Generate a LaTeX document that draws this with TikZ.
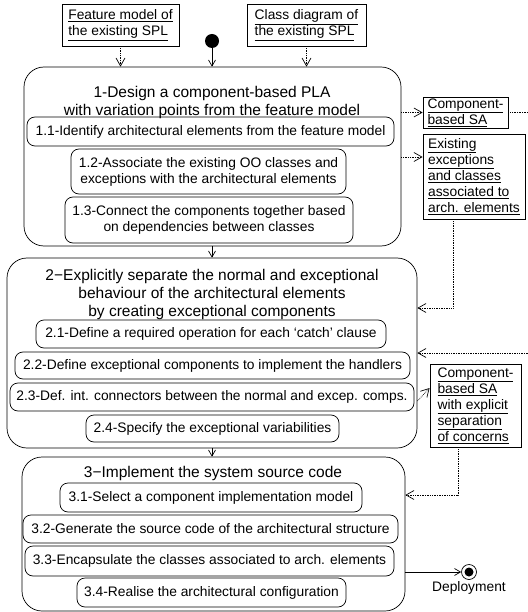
\documentclass[tikz,border=0pt]{standalone}
\usepackage{fontspec}
\setmainfont{Liberation Sans}
\usetikzlibrary{arrows.meta,positioning}

\begin{document}
\begin{tikzpicture}[
      x=1pt, y=-1pt,
      every node/.style={font=\fontsize{13.8}{16}\selectfont, inner sep=0pt},
      phase/.style={draw, rounded corners=20pt, line width=0.7pt},
      phasetitle/.style={align=center, font=\fontsize{15.5}{18}\selectfont},
      task/.style={draw, rounded corners=8pt, line width=0.7pt, align=center},
      artefact/.style={draw, line width=0.8pt, align=left},
      flow/.style={-{Straight Barb[length=6pt,width=7pt]}, line width=0.7pt},
      dep/.style={-{Straight Barb[length=8pt,width=9pt]}, densely dotted, line width=0.7pt}
  ]
    \useasboundingbox (0,0) rectangle (527,612);
    \node[artefact, minimum width=117pt, minimum height=42pt] (featmodel) at (120.5,25) {\underline{Feature model of}\\\underline{the existing SPL}};
    \node[artefact, minimum width=119pt, minimum height=42pt] (classdiag) at (306.5,25) {\underline{Class diagram of}\\\underline{the existing SPL}};
    \node[circle, fill, minimum size=14pt] (start) at (212,41) {};

    \node[phase, minimum width=377pt, minimum height=179pt] (design) at (212.5,156.5) {};
    \node[phasetitle] (designtitle) at (212,102) {1-Design a component-based PLA\\with variation points from the feature model};
    \node[task, minimum width=367pt, minimum height=29pt] (identify) at (210.5,131.5) {1.1-Identify architectural elements from the feature model};
    \node[task, minimum width=275pt, minimum height=45pt] (associate) at (208.5,171.5) {1.2-Associate the existing OO classes and\\exceptions with the architectural elements};
    \node[task, minimum width=288pt, minimum height=46pt] (connect) at (209,220) {1.3-Connect the components together based\\on dependencies between classes};

    \node[phase, minimum width=410pt, minimum height=190pt] (separate) at (212,353) {};
    \node[phasetitle] (separatetitle) at (212,294) {2−Explicitly separate the normal and exceptional\\behaviour of the architectural elements\\by creating exceptional components};
    \node[task, minimum width=350pt, minimum height=28pt] (operation) at (211,334) {2.1-Define a required operation for each `catch' clause};
    \node[task, minimum width=395pt, minimum height=27pt] (handlers) at (212.5,365.5) {2.2-Define exceptional components to implement the handlers};
    \node[task, minimum width=404pt, minimum height=28pt] (connectors) at (212,397) {2.3-Def. int. connectors between the normal and excep. comps.};
    \node[task, minimum width=253pt, minimum height=27pt] (variability) at (212.5,428.5) {2.4-Specify the exceptional variabilities};

    \node[phase, minimum width=383pt, minimum height=154pt] (implement) at (213.5,534) {};
    \node[phasetitle] (implementtitle) at (213,473) {3−Implement the system source code};
    \node[task, minimum width=302pt, minimum height=29pt] (compmodel) at (211,497.5) {3.1-Select a component implementation model};
    \node[task, minimum width=375pt, minimum height=28pt] (generate) at (210.5,529) {3.2-Generate the source code of the architectural structure};
    \node[task, minimum width=369pt, minimum height=30pt] (encapsulate) at (209.5,561) {3.3-Encapsulate the classes associated to arch. elements};
    \node[task, minimum width=269pt, minimum height=29pt] (realise) at (211.5,592.5) {3.4-Realise the architectural configuration};

    \node[artefact, minimum width=85pt, minimum height=31pt] (casa) at (465.5,112.5) {\underline{Component-}\\\underline{based SA}};
    \node[artefact, minimum width=102pt, minimum height=85pt] (excclasses) at (474,176.5) {\underline{Existing}\\\underline{exceptions}\\\underline{and classes}\\\underline{associated to}\\\underline{arch. elements}};
    \node[artefact, minimum width=91pt, minimum height=83pt] (casasep) at (475.5,405.5) {\underline{Component-}\\\underline{based SA}\\\underline{with explicit}\\\underline{separation}\\\underline{of concerns}};

    \node[circle, draw, line width=0.7pt, minimum size=15pt, path picture={\fill (path picture bounding box.center) circle (4.5pt);}] (deploy) at (469,572) {};
    \node[below=1pt of deploy] (deploylabel) {Deployment};

    \draw[flow] (start) -- (start |- design.north);
    \draw[dep] (featmodel) -- (featmodel |- design.north);
    \draw[dep] (classdiag) -- (classdiag |- design.north);
    \draw[dep] (design.east |- casa) -- (casa);
    \draw[dep] (design.east |- 0,157) -- (excclasses.west |- 0,157);
    \draw[dep] ([xshift=-21pt]excclasses.south) |- (separate.east |- 0,308);
    \draw[dep] (casa.east) -- ++(40,0) |- (separate.east |- 0,353);
    \draw[dep] (separate.east |- 0,401) -- (casasep.west |- 0,388);
    \draw[dep] ([xshift=-17.5pt]casasep.south) |- (implement.east |- 0,495);
    \draw[flow] (design.south -| start) -- (separate.north -| start);
    \draw[flow] (separate.south -| start) -- (implement.north -| start);
    \draw[flow] (implement.east |- deploy) -- (deploy);
  \end{tikzpicture}
\end{document}
